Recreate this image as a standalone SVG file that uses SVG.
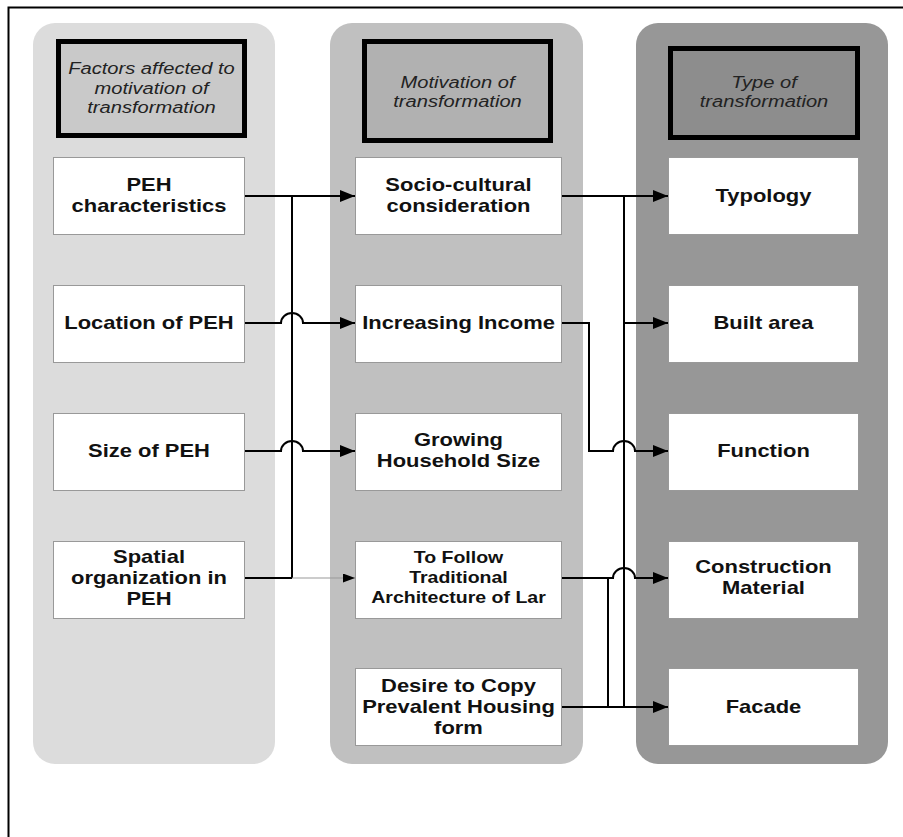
<svg xmlns="http://www.w3.org/2000/svg" width="903" height="837" viewBox="0 0 903 837">
<defs>
<style>
.col{stroke:none}
.hdr{stroke:#000;stroke-width:5}
.box{fill:#fff;stroke:#999;stroke-width:1}
.ht{font-family:"Liberation Sans",Arial,sans-serif;font-style:italic;font-size:16.5px;fill:#222;text-anchor:middle}
.bt{font-family:"Liberation Sans",Arial,sans-serif;font-weight:bold;font-size:18px;fill:#111;text-anchor:middle}
.st{font-size:16px}
.ln{fill:none;stroke:#000;stroke-width:2}
.thin{fill:none;stroke:#999;stroke-width:1}
</style>
<marker id="ah" markerUnits="userSpaceOnUse" markerWidth="16" markerHeight="12" refX="15" refY="6" orient="auto">
<path d="M0,0 L15,6 L0,12 z" fill="#000"/>
</marker>
<marker id="ahs" markerUnits="userSpaceOnUse" markerWidth="13" markerHeight="9" refX="12" refY="4.5" orient="auto">
<path d="M0,0 L12,4.5 L0,9 z" fill="#000"/>
</marker>
</defs>
<rect x="0" y="0" width="903" height="837" fill="#fff"/>
<path d="M903,7.5 H8.5 V840" fill="none" stroke="#000" stroke-width="2"/>

<g id="col1">
<rect class="col" x="33" y="23" width="242" height="741" rx="22" fill="#dcdcdc"/>
<rect class="hdr" x="58.5" y="41.5" width="186" height="94" fill="#c9c9c9"/>
<text class="ht" transform="translate(151.5,0) scale(1.22,1)"><tspan x="0" y="74">Factors affected to</tspan><tspan x="0" y="94">motivation of</tspan><tspan x="0" y="113">transformation</tspan></text>
</g>
<g id="col2">
<rect class="col" x="330" y="23" width="253" height="741" rx="22" fill="#c0c0c0"/>
<rect class="hdr" x="364.5" y="41.5" width="186" height="99" fill="#b1b1b1"/>
<text class="ht" transform="translate(457.5,0) scale(1.22,1)"><tspan x="0" y="88">Motivation of</tspan><tspan x="0" y="107">transformation</tspan></text>
</g>
<g id="col3">
<rect class="col" x="636" y="23" width="252" height="741" rx="22" fill="#979797"/>
<rect class="hdr" x="670.5" y="48.5" width="187" height="89" fill="#8d8d8d"/>
<text class="ht" transform="translate(764,0) scale(1.22,1)"><tspan x="0" y="88">Type of</tspan><tspan x="0" y="107">transformation</tspan></text>
</g>

<g id="connectors">
<path class="ln" d="M245,196 H355" marker-end="url(#ah)"/>
<path class="ln" d="M292,196 V578"/>
<path class="ln" d="M245,323 H281 A11,10 0 0 1 303,323 H355" marker-end="url(#ah)"/>
<path class="ln" d="M245,451 H281 A11,10 0 0 1 303,451 H355" marker-end="url(#ah)"/>
<path class="ln" d="M245,578 H292"/>
<path class="thin" d="M292,578 H355" marker-end="url(#ahs)"/>
<path class="ln" d="M562,196 H668" marker-end="url(#ah)"/>
<path class="ln" d="M624,196 V707"/>
<path class="ln" d="M624,323 H668" marker-end="url(#ah)"/>
<path class="ln" d="M562,323 H589 V451 H613 A11,10 0 0 1 635,451 H668" marker-end="url(#ah)"/>
<path class="ln" d="M562,578 H613 A11,10 0 0 1 635,578 H668" marker-end="url(#ah)"/>
<path class="ln" d="M608,578 V707"/>
<path class="ln" d="M562,707 H668" marker-end="url(#ah)"/>
</g>

<g id="n-peh-char"><rect class="box" x="53.5" y="157.5" width="191" height="77"/>
<text class="bt" transform="translate(149,0) scale(1.22,1)"><tspan x="0" y="191">PEH</tspan><tspan x="0" y="212">characteristics</tspan></text></g>
<g id="n-location"><rect class="box" x="53.5" y="285.5" width="191" height="77"/>
<text class="bt" transform="translate(149,0) scale(1.22,1)"><tspan x="0" y="329">Location of PEH</tspan></text></g>
<g id="n-size"><rect class="box" x="53.5" y="413.5" width="191" height="77"/>
<text class="bt" transform="translate(149,0) scale(1.22,1)"><tspan x="0" y="457">Size of PEH</tspan></text></g>
<g id="n-spatial"><rect class="box" x="53.5" y="541.5" width="191" height="77"/>
<text class="bt" transform="translate(149,0) scale(1.22,1)"><tspan x="0" y="563">Spatial</tspan><tspan x="0" y="584">organization in</tspan><tspan x="0" y="605">PEH</tspan></text></g>

<g id="n-socio"><rect class="box" x="355.5" y="157.5" width="206" height="77"/>
<text class="bt" transform="translate(458.5,0) scale(1.22,1)"><tspan x="0" y="191">Socio-cultural</tspan><tspan x="0" y="212">consideration</tspan></text></g>
<g id="n-income"><rect class="box" x="355.5" y="285.5" width="206" height="77"/>
<text class="bt" transform="translate(458.5,0) scale(1.22,1)"><tspan x="0" y="329">Increasing Income</tspan></text></g>
<g id="n-household"><rect class="box" x="355.5" y="413.5" width="206" height="77"/>
<text class="bt" transform="translate(458.5,0) scale(1.22,1)"><tspan x="0" y="446">Growing</tspan><tspan x="0" y="467">Household Size</tspan></text></g>
<g id="n-traditional"><rect class="box" x="355.5" y="541.5" width="206" height="77"/>
<text class="bt st" transform="translate(458.5,0) scale(1.22,1)"><tspan x="0" y="563">To Follow</tspan><tspan x="0" y="583">Traditional</tspan><tspan x="0" y="603">Architecture of Lar</tspan></text></g>
<g id="n-desire"><rect class="box" x="355.5" y="668.5" width="206" height="77"/>
<text class="bt" transform="translate(458.5,0) scale(1.22,1)"><tspan x="0" y="692">Desire to Copy</tspan><tspan x="0" y="713">Prevalent Housing</tspan><tspan x="0" y="734">form</tspan></text></g>

<g id="n-typology"><rect class="box" x="668.5" y="157.5" width="190" height="77"/>
<text class="bt" transform="translate(763.5,0) scale(1.22,1)"><tspan x="0" y="202">Typology</tspan></text></g>
<g id="n-built"><rect class="box" x="668.5" y="285.5" width="190" height="77"/>
<text class="bt" transform="translate(763.5,0) scale(1.22,1)"><tspan x="0" y="329">Built area</tspan></text></g>
<g id="n-function"><rect class="box" x="668.5" y="413.5" width="190" height="77"/>
<text class="bt" transform="translate(763.5,0) scale(1.22,1)"><tspan x="0" y="457">Function</tspan></text></g>
<g id="n-material"><rect class="box" x="668.5" y="541.5" width="190" height="77"/>
<text class="bt" transform="translate(763.5,0) scale(1.22,1)"><tspan x="0" y="573">Construction</tspan><tspan x="0" y="594">Material</tspan></text></g>
<g id="n-facade"><rect class="box" x="668.5" y="668.5" width="190" height="77"/>
<text class="bt" transform="translate(763.5,0) scale(1.22,1)"><tspan x="0" y="713">Facade</tspan></text></g>
</svg>
